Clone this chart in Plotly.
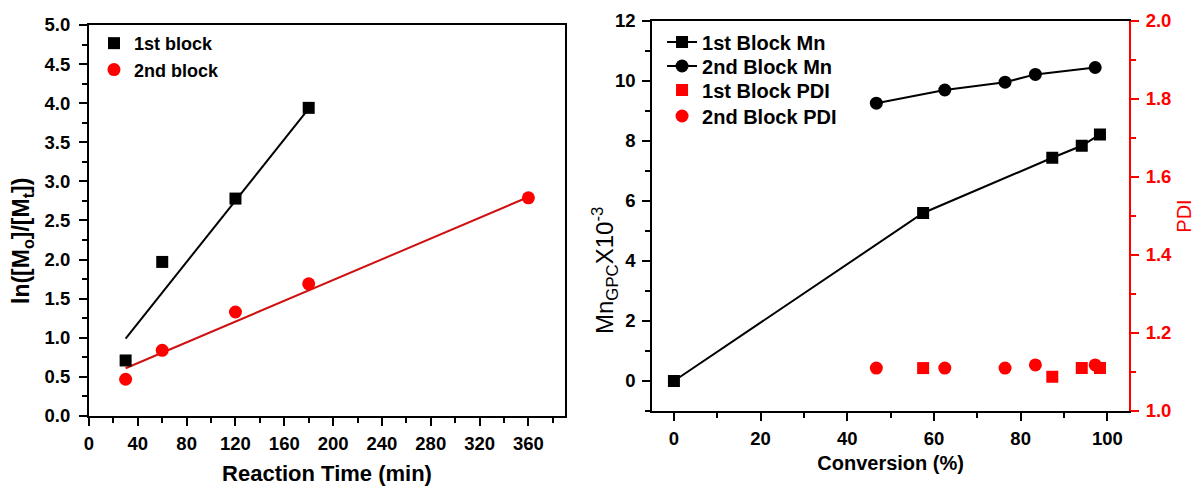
import plotly.graph_objects as go

# ---- Left panel data: kinetics ----
time_1st = [30, 60, 120, 180]
ln_1st = [0.71, 1.97, 2.78, 3.94]
time_2nd = [30, 60, 120, 180, 360]
ln_2nd = [0.47, 0.84, 1.33, 1.69, 2.79]
fit_1st_t = [30, 180]
fit_1st_y = [0.99, 3.93]
fit_2nd_t = [30, 360]
fit_2nd_y = [0.61, 2.80]

# ---- Right panel data: Mn / PDI vs conversion ----
conv_1st = [0, 57.5, 87.3, 94.1, 98.3]
mn_1st = [0, 5.6, 7.44, 7.84, 8.22]
conv_2nd = [46.7, 62.5, 76.4, 83.4, 97.2]
mn_2nd = [9.26, 9.7, 9.96, 10.22, 10.45]
pdi_1st_conv = [57.5, 87.3, 94.1, 98.3]
pdi_1st = [1.11, 1.088, 1.11, 1.11]
pdi_2nd_conv = [46.7, 62.5, 76.4, 83.4, 97.2]
pdi_2nd = [1.11, 1.11, 1.11, 1.118, 1.118]

FONT = "Liberation Sans"
RED = "#ff0000"
FITRED = "#d01010"

fig = go.Figure()

# Left panel
fig.add_trace(go.Scatter(x=fit_1st_t, y=fit_1st_y, mode="lines", line=dict(color="black", width=2),
                         showlegend=False, xaxis="x", yaxis="y"))
fig.add_trace(go.Scatter(x=fit_2nd_t, y=fit_2nd_y, mode="lines", line=dict(color=FITRED, width=2),
                         showlegend=False, xaxis="x", yaxis="y"))
fig.add_trace(go.Scatter(x=time_1st, y=ln_1st, mode="markers", name="1st block",
                         marker=dict(symbol="square", size=12, color="black"),
                         xaxis="x", yaxis="y", legend="legend"))
fig.add_trace(go.Scatter(x=time_2nd, y=ln_2nd, mode="markers", name="2nd block",
                         marker=dict(symbol="circle", size=13, color=RED),
                         xaxis="x", yaxis="y", legend="legend"))

# Right panel
fig.add_trace(go.Scatter(x=conv_1st, y=mn_1st, mode="lines+markers", name="1st Block Mn",
                         line=dict(color="black", width=2),
                         marker=dict(symbol="square", size=12, color="black"),
                         xaxis="x2", yaxis="y2", legend="legend2"))
fig.add_trace(go.Scatter(x=conv_2nd, y=mn_2nd, mode="lines+markers", name="2nd Block Mn",
                         line=dict(color="black", width=2),
                         marker=dict(symbol="circle", size=13, color="black"),
                         xaxis="x2", yaxis="y2", legend="legend3"))
fig.add_trace(go.Scatter(x=pdi_1st_conv, y=pdi_1st, mode="markers", name="1st Block PDI",
                         marker=dict(symbol="square", size=12, color=RED),
                         xaxis="x2", yaxis="y3", legend="legend4"))
fig.add_trace(go.Scatter(x=pdi_2nd_conv, y=pdi_2nd, mode="markers", name="2nd Block PDI",
                         marker=dict(symbol="circle", size=13, color=RED),
                         xaxis="x2", yaxis="y3", legend="legend5"))

tickfont = dict(family=FONT, size=18.5, color="black", weight="bold")

common = dict(showgrid=False, zeroline=False, showline=True, linecolor="black", linewidth=2,
              ticks="outside", ticklen=8, tickwidth=2, tickcolor="black", automargin=False)

legfont_r = dict(family=FONT, size=20, color="black", weight="bold")


def right_legend(row_px):
    return dict(x=0.551, y=(416 - row_px) / 395, xanchor="left", yanchor="middle",
                bgcolor="rgba(0,0,0,0)", font=legfont_r)


fig.update_layout(
    width=1195, height=486,
    margin=dict(l=89, r=66, t=21, b=70),
    paper_bgcolor="white", plot_bgcolor="white",
    xaxis=dict(domain=[0, 0.4577], range=[0, 390], tickvals=list(range(0, 361, 40)),
               minor=dict(dtick=20, ticklen=5, tickwidth=2, tickcolor="black", ticks="outside"),
               mirror=True, tickfont=tickfont, ticklabelstandoff=2,
               title=dict(text="Reaction Time (min)", standoff=14,
                          font=dict(family=FONT, size=22, color="black", weight="bold")),
               anchor="y", **common),
    yaxis=dict(domain=[0, 0.99], range=[0, 5], dtick=0.5, tickformat=".1f",
               minor=dict(dtick=0.25, ticklen=5, tickwidth=2, tickcolor="black", ticks="outside"),
               mirror=True, tickfont=tickfont, ticklabelstandoff=5,
               anchor="x", **common),
    xaxis2=dict(domain=[0.5416, 1], range=[-5, 105], dtick=20,
                minor=dict(dtick=10, ticklen=5, tickwidth=2, tickcolor="black", ticks="outside"),
                mirror=True, tickfont=tickfont, ticklabelstandoff=2,
                title=dict(text="Conversion (%)", standoff=8,
                           font=dict(family=FONT, size=20, color="black", weight="bold")),
                anchor="y2", **common),
    yaxis2=dict(domain=[0.0127, 1], range=[-1, 12], tickvals=list(range(0, 13, 2)),
                minor=dict(dtick=1, ticklen=5, tickwidth=2, tickcolor="black", ticks="outside"),
                mirror=False, tickfont=tickfont, ticklabelstandoff=3,
                anchor="x2", **common),
    yaxis3=dict(domain=[0.0127, 1], range=[1.0, 2.0], dtick=0.2, tickformat=".1f",
                overlaying="y2", side="right", anchor="x2",
                showgrid=False, zeroline=False, showline=True, linecolor=RED, linewidth=2,
                ticks="outside", ticklen=8, tickwidth=2, tickcolor=RED, automargin=False,
                minor=dict(dtick=0.1, ticklen=5, tickwidth=2, tickcolor=RED, ticks="outside"),
                tickfont=dict(family=FONT, size=18.5, color=RED, weight="bold"), ticklabelstandoff=3,
                title=dict(text="PDI", standoff=10, font=dict(family=FONT, size=20, color=RED))),
    legend=dict(x=0.0048, y=0.99, xanchor="left", yanchor="top", bgcolor="rgba(0,0,0,0)",
                font=dict(family=FONT, size=18, color="black", weight="bold"),
                tracegroupgap=0),
    legend2=right_legend(42),
    legend3=right_legend(66),
    legend4=right_legend(90),
    legend5=right_legend(116),
    annotations=[
        dict(text="<b>ln([M<sub>o</sub>]/[M<sub>t</sub>])</b>", xref="paper", yref="paper",
             x=(22 - 89) / 1040, y=(416 - 241) / 395, textangle=-90,
             showarrow=False, xanchor="center", yanchor="middle",
             font=dict(family=FONT, size=23, color="black")),
        dict(text="Mn<sub>GPC</sub>X10<sup>-3</sup>", xref="paper", yref="paper",
             x=(605 - 89) / 1040, y=(416 - 271) / 395, textangle=-90,
             showarrow=False, xanchor="center", yanchor="middle",
             font=dict(family=FONT, size=24, color="black")),
    ],
)

fig.write_html("out.html")
